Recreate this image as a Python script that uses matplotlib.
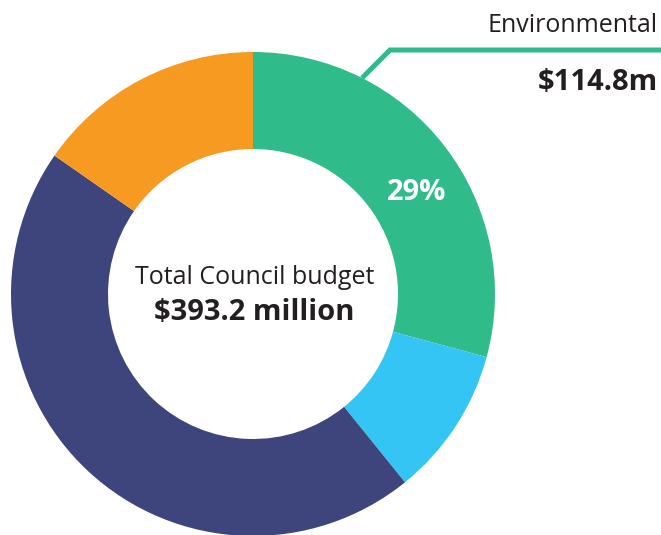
import matplotlib
matplotlib.use("Agg")
import matplotlib.pyplot as plt

# council budget split, $ millions (clockwise from 12 o'clock)
labels = ["Environmental", "Other A", "Other B", "Other C"]
values = [114.8, 39.3, 178.9, 60.2]
colors = ["#2FBB8A", "#35C5F4", "#3D457C", "#F79A21"]
total = 393.2

W, H = 661, 535
fig = plt.figure(figsize=(W / 100, H / 100), dpi=100)
ax = fig.add_axes([0, 0, 1, 1])

cx, cy = 253, H - 294
R = 242
ring = 97

ax.pie(values, colors=colors, startangle=90, counterclock=False,
       center=(cx, cy), radius=R,
       wedgeprops=dict(width=ring, linewidth=0))

ax.set_xlim(0, W)
ax.set_ylim(0, H)
ax.set_aspect("equal")
ax.axis("off")

font = "Open Sans"
dark = "#231F20"

# percentage label on the green wedge
pct = round(values[0] / total * 100)
ax.text(417, H - 193, f"{pct}%", color="white", fontsize=21, fontweight="bold",
        family=font, ha="center", va="center")

# centre text
ax.text(cx + 2, H - 277, "Total Council budget", color=dark, fontsize=18,
        family=font, ha="center", va="center")
ax.text(cx + 1, H - 313, f"${total} million", color=dark, fontsize=21,
        fontweight="bold", family=font, ha="center", va="center")

# leader line and callout
ax.plot([362, 390, W], [H - 78, H - 50, H - 50], color=colors[0], lw=3.6,
        solid_joinstyle="miter", solid_capstyle="butt")
ax.text(658, H - 26, labels[0], color=dark, fontsize=18, family=font,
        ha="right", va="center")
ax.text(658, H - 82, f"${values[0]}m", color=dark, fontsize=21,
        fontweight="bold", family=font, ha="right", va="center")

fig.savefig("out.png", dpi=100)
